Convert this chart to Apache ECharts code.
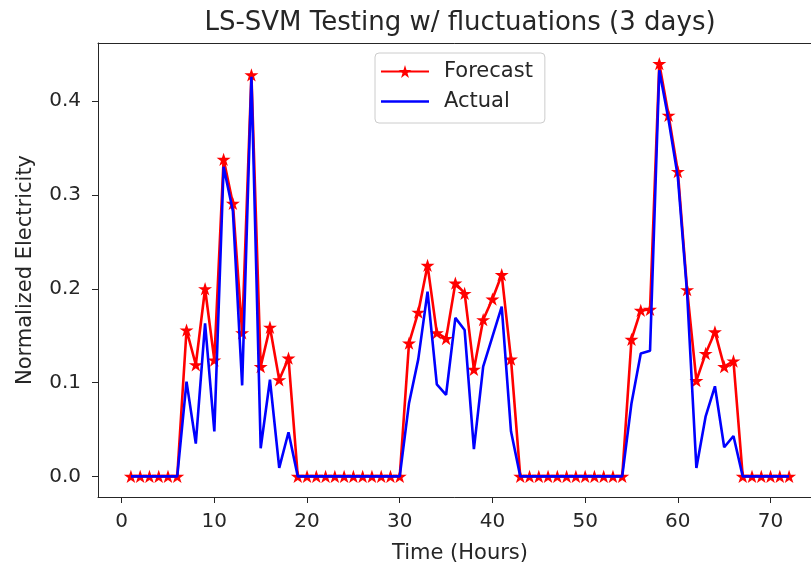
<!DOCTYPE html>
<html>
<head>
<meta charset="utf-8">
<script src="https://cdn.jsdelivr.net/npm/echarts@6/dist/echarts.min.js"></script>
<style>html,body{margin:0;padding:0;background:#fff}#c{width:811px;height:563px}</style>
</head>
<body>
<div id="c"></div>
<script>
const hours = [1,2,3,4,5,6,7,8,9,10,11,12,13,14,15,16,17,18,19,20,21,22,23,24,25,26,27,28,29,30,31,32,33,34,35,36,
  37,38,39,40,41,42,43,44,45,46,47,48,49,50,51,52,53,54,55,56,57,58,59,60,61,62,63,64,65,66,67,68,69,70,71,72];
const forecast = [0,0,0,0,0,0, 0.156,0.119,0.200,0.124,0.338,0.291,0.153,0.428,0.117,0.159,0.103,0.126,
  0,0,0,0,0,0,0,0,0,0,0,0, 0.142,0.175,0.225,0.153,0.147,0.206,0.195,0.114,0.167,0.189,0.215,0.125,
  0,0,0,0,0,0,0,0,0,0,0,0, 0.146,0.177,0.178,0.440,0.385,0.325,0.199,0.102,0.131,0.154,0.117,0.123,
  0,0,0,0,0,0];
const actual = [0,0,0,0,0,0, 0.101,0.035,0.163,0.048,0.330,0.283,0.097,0.426,0.030,0.103,0.009,0.047,
  0,0,0,0,0,0,0,0,0,0,0,0, 0.078,0.125,0.197,0.098,0.087,0.169,0.156,0.029,0.117,0.149,0.181,0.048,
  0,0,0,0,0,0,0,0,0,0,0,0, 0.078,0.131,0.134,0.433,0.380,0.319,0.195,0.009,0.064,0.096,0.031,0.043,
  0,0,0,0,0,0];
const xTicks = [0,10,20,30,40,50,60,70];
const yTicks = [0,0.1,0.2,0.3,0.4];

const star = 'path://M50,0 L61.23,34.55 L97.55,34.55 L68.16,55.9 L79.39,90.45 L50,69.1 L20.61,90.45 L31.84,55.9 L2.45,34.55 L38.77,34.55 Z';
const lineIcon = 'path://M0,0 L48,0 L48,2.4 L0,2.4 Z';
const font = 'DejaVu Sans';
const txt = '#262626';

const chart = echarts.init(document.getElementById('c'), null, {renderer: 'canvas'});
chart.setOption({
  animation: false,
  backgroundColor: '#fff',
  title: {
    text: 'LS-SVM Testing w/ fluctuations (3 days)',
    left: 460, top: 10, textAlign: 'center',
    padding: 0,
    textStyle: {fontFamily: font, fontSize: 26, fontWeight: 'normal', color: txt}
  },
  legend: {
    orient: 'vertical',
    left: 375, top: 53,
    padding: [8, 12, 11, 5],
    itemWidth: 48, itemHeight: 16, itemGap: 9,
    symbolKeepAspect: true,
    borderColor: '#cccccc', borderWidth: 1, borderRadius: 4,
    backgroundColor: 'rgba(255,255,255,0.8)',
    textStyle: {fontFamily: font, fontSize: 21, color: txt, lineHeight: 21, padding: [0, 0, 0, 10]},
    data: [{name: 'Forecast'}, {name: 'Actual', icon: lineIcon}]
  },
  grid: {left: 98, top: 43, width: 724, height: 454, show: false, containLabel: false, outerBoundsMode: 'none'},
  xAxis: [{
    type: 'value', min: -2.55, max: 75.55,
    name: 'Time (Hours)', nameLocation: 'middle', nameGap: 46,
    nameTextStyle: {fontFamily: font, fontSize: 21, color: txt},
    axisLine: {show: true, onZero: false, lineStyle: {color: txt, width: 1}},
    axisTick: {show: true, inside: false, length: 6, lineStyle: {color: txt}, customValues: xTicks},
    axisLabel: {fontFamily: font, fontSize: 20, color: txt, margin: 15, customValues: xTicks, formatter: v => String(v)},
    splitLine: {show: false}
  }, {
    type: 'value', min: -2.55, max: 75.55, position: 'top',
    axisLine: {show: true, onZero: false, lineStyle: {color: txt, width: 1}},
    axisTick: {show: false}, axisLabel: {show: false}, splitLine: {show: false}
  }],
  yAxis: {
    type: 'value', min: -0.022, max: 0.462,
    name: 'Normalized Electricity', nameLocation: 'middle', nameGap: 62, nameRotate: 90,
    nameTextStyle: {fontFamily: font, fontSize: 21, color: txt},
    axisLine: {show: true, onZero: false, lineStyle: {color: txt, width: 1}},
    axisTick: {show: true, inside: false, length: 6, lineStyle: {color: txt}, customValues: yTicks},
    axisLabel: {fontFamily: font, fontSize: 20, color: txt, margin: 17, customValues: yTicks, formatter: v => v.toFixed(1)},
    splitLine: {show: false}
  },
  series: [
    {
      name: 'Forecast', type: 'line',
      data: hours.map((h, i) => [h, forecast[i]]),
      symbol: star, symbolSize: 14, symbolKeepAspect: true, showAllSymbol: true,
      lineStyle: {color: '#ff0000', width: 2.6},
      itemStyle: {color: '#ff0000'},
      z: 2
    },
    {
      name: 'Actual', type: 'line',
      data: hours.map((h, i) => [h, actual[i]]),
      symbol: 'none',
      lineStyle: {color: '#0000ff', width: 2.6},
      itemStyle: {color: '#0000ff'},
      z: 3
    }
  ]
});
</script>
</body>
</html>
